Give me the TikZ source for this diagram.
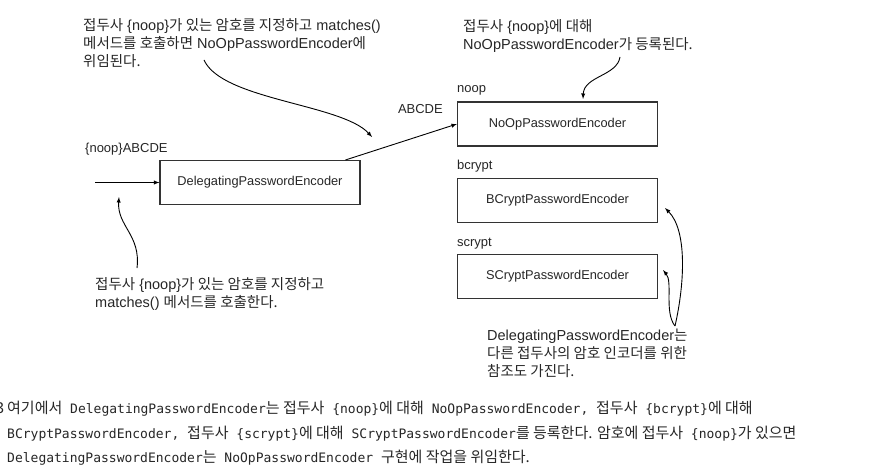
\documentclass[tikz,border=0pt]{standalone}
\usepackage{fontspec}
\setmainfont{Liberation Sans}
\newfontfamily\krfont{Noto Sans CJK KR}
\newfontfamily\codefont{DejaVu Sans Mono}
\newcommand{\kr}[1]{{\krfont #1}}
\newcommand{\ckr}[1]{{\krfont\fontsize{15}{24.5}\selectfont #1}}
\usetikzlibrary{positioning}

\tikzset{
  encbox/.style={draw=black!80, line width=1.1pt, minimum width=200pt, minimum height=44pt, inner sep=0pt, text=black!85, font=\fontsize{12.8}{15}\selectfont},
  tag/.style={inner sep=0pt, text=black!85, font=\fontsize{13}{15}\selectfont},
  note/.style={align=left, inner sep=0pt, anchor=north west, text=black!85, font=\fontsize{14.5}{18}\selectfont},
  caption/.style={align=left, inner sep=0pt, anchor=north west, text=black!85, font=\codefont\fontsize{13}{24.5}\selectfont},
  pointer/.style={->, line width=0.9pt},
}

\begin{document}
\begin{tikzpicture}[>=latex, x=1pt, y=-1pt]
\useasboundingbox (0,0) rectangle (872,473);

% encoders
\draw(260,182.5) node[encbox] (dpe) {DelegatingPasswordEncoder};
\draw(557.5,124) node[encbox, label={[tag, anchor=south west, yshift=6pt]north west:noop}] (noop) {NoOpPasswordEncoder};
\node[encbox, below=31pt of noop, label={[tag, anchor=south west, yshift=5pt]north west:bcrypt}] (bcrypt) {BCryptPasswordEncoder};
\node[encbox, below=31pt of bcrypt, label={[tag, anchor=south west, yshift=4pt]north west:scrypt}] (scrypt) {SCryptPasswordEncoder};

% password flow
\coordinate (in) at (95,182.5);
\draw(85,153) node[tag, anchor=base west] (raw) {\{noop\}ABCDE};
\draw(443,114) node[tag, anchor=base east] (stripped) {ABCDE};
\draw[pointer] (in) -- (dpe.west);
\draw[pointer] ([xshift=-15pt]dpe.north east) -- (noop.west);

% notes
\draw(83,18) node[note] (n1) {\kr{접두사} \{noop\}\kr{가 있는 암호를 지정하고} matches()\\\kr{메서드를 호출하면} NoOpPasswordEncoder\kr{에}\\\kr{위임된다.}};
\draw(463,19) node[note] (n2) {\kr{접두사} \{noop\}\kr{에 대해}\\NoOpPasswordEncoder\kr{가 등록된다.}};
\draw(95,277) node[note] (n3) {\kr{접두사} \{noop\}\kr{가 있는 암호를 지정하고}\\matches() \kr{메서드를 호출한다.}};
\draw(487,329) node[note] (n4) {DelegatingPasswordEncoder\kr{는}\\\kr{다른 접두사의 암호 인코더를 위한}\\\kr{참조도 가진다.}};

\coordinate (s1) at (204,60);
\coordinate (t1) at (372,137);
\draw[pointer] (s1) .. controls (222,100) and (342,104) .. (t1);
\coordinate (s2) at (620,57);
\coordinate (t2) at (583,99);
\draw[pointer] (s2) .. controls (617,76) and (584,76) .. (t2);
\coordinate (s3) at (137,268);
\coordinate (t3) at (119,197);
\draw[pointer] (s3) .. controls (141,235) and (117,226) .. (t3);
\coordinate (s4) at (675,326);
\coordinate (t4a) at (665,208);
\coordinate (t4b) at (663,270);
\draw[pointer] (s4) .. controls (685,282) and (687,230) .. (t4a);
\draw[pointer] (s4) .. controls (664,312) and (673,282) .. (t4b);

% caption
\draw(7,401) node[caption] (cap) {\llap{\ckr{3}\hspace{3pt}}\ckr{여기에서} DelegatingPasswordEncoder\ckr{는 접두사} \{noop\}\ckr{에 대해} NoOpPasswordEncoder, \ckr{접두사} \{bcrypt\}\ckr{에 대해}\\
BCryptPasswordEncoder, \ckr{접두사} \{scrypt\}\ckr{에 대해} SCryptPasswordEncoder\ckr{를 등록한다. 암호에 접두사} \{noop\}\ckr{가 있으면}\\
DelegatingPasswordEncoder\ckr{는} NoOpPasswordEncoder \ckr{구현에 작업을 위임한다.}};

\end{tikzpicture}
\end{document}
